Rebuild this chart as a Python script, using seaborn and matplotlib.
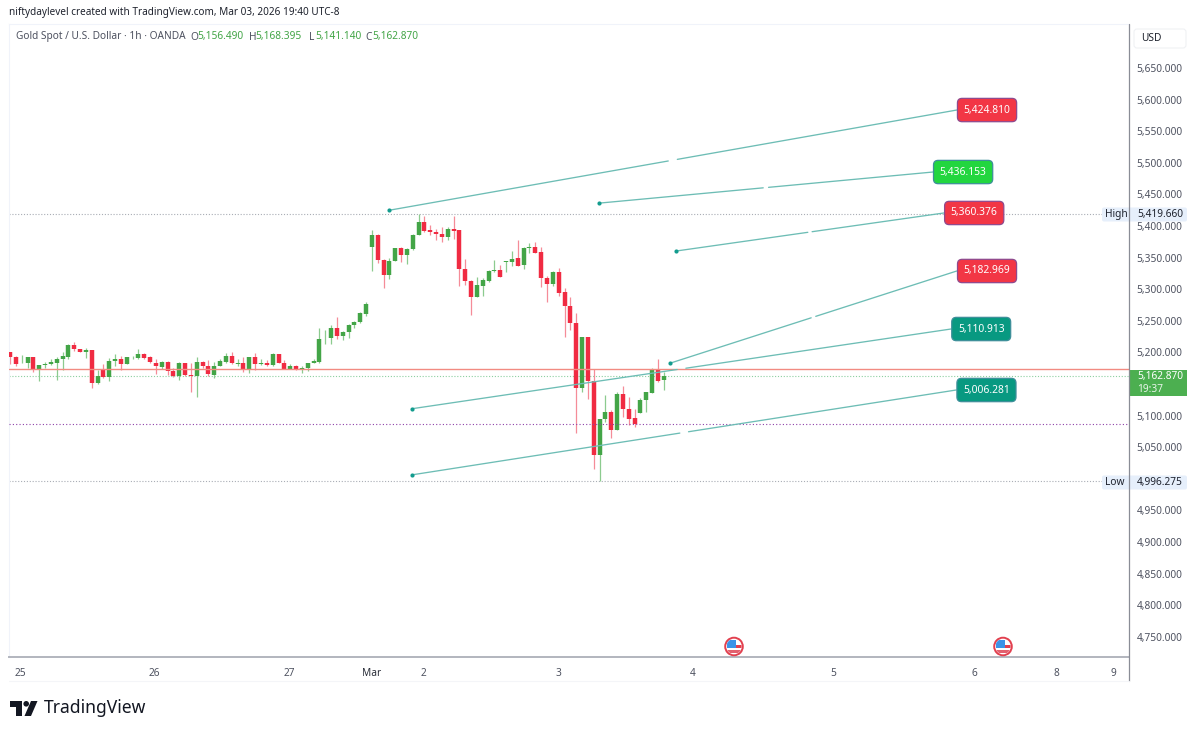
import matplotlib
matplotlib.use("Agg")
import matplotlib.pyplot as plt
from matplotlib.patches import Rectangle, FancyBboxPatch, Circle, Polygon
import pandas as pd
import seaborn as sns

opens = [5200,5193,5183,5183,5192,5173,5180,5182,5183,5189,
         5193,5211,5205,5201,5204,5151,5172,5161,5186,5190,
         5182,5192,5191,5197,5192,5184,5177,5185,5170,5163,
         5183,5165,5163,5185,5178,5165,5179,5185,5194,5181,
         5183,5173,5193,5182,5183,5180,5197,5184,5174,5178,
         5174,5175,5183,5185,5222,5222,5238,5226,5232,5244,
         5248,5261,5366,5386,5346,5322,5345,5365,5354,5363,
         5385,5407,5393,5391,5388,5383,5396,5393,5332,5313,
         5288,5305,5313,5329,5331,5343,5343,5349,5338,5365,
         5366,5359,5318,5309,5327,5295,5274,5247,5143,5224,
         5155,5038,5094,5106,5077,5134,5111,5096,5104,5124,5136,5174,5156.49]
closes = [5192,5182,5184,5192,5173,5180,5182,5185,5190,5194,
          5211,5205,5200,5204,5151,5162,5161,5186,5190,5182,
          5192,5193,5197,5191,5185,5178,5185,5170,5162,5183,
          5164,5163,5185,5178,5166,5179,5186,5194,5183,5183,
          5173,5193,5181,5183,5180,5197,5184,5174,5178,5174,
          5175,5183,5186,5221,5223,5238,5226,5233,5244,5248,
          5262,5277,5386,5346,5322,5345,5365,5354,5364,5386,
          5407,5392,5390,5387,5383,5396,5392,5332,5313,5288,
          5306,5314,5329,5331,5319,5345,5348,5337,5365,5366,
          5358,5317,5309,5327,5294,5274,5247,5143,5224,5155,
          5038,5095,5105,5077,5134,5111,5095,5087,5125,5137,5174,5154,5162.87]
highs = [5200,5194,5196,5192,5192,5180,5185,5190,5192,5200,
         5213,5216,5206,5207,5204,5172,5181,5191,5197,5194,
         5192,5195,5205,5199,5194,5189,5186,5186,5176,5185,
         5184,5183,5192,5186,5188,5185,5190,5199,5200,5189,
         5193,5193,5199,5189,5188,5199,5198,5188,5181,5180,
         5179,5184,5189,5239,5235,5244,5256,5234,5245,5250,
         5264,5280,5393,5387,5347,5350,5365,5366,5365,5388,
         5419.66,5416,5402,5396,5398,5398,5416,5394,5348,5315,
         5320,5317,5331,5346,5339,5345,5361,5378,5366,5373,
         5374,5366,5321,5329,5334,5302,5287,5263,5225,5224,
         5174,5095,5133,5109,5137,5147,5129,5110,5128,5138,5176,5190,5168.395]
lows = [5182,5179,5183,5176,5169,5154,5176,5180,5157,5172,
        5189,5203,5200,5191,5143,5150,5159,5154,5178,5172,
        5182,5189,5189,5190,5183,5166,5173,5165,5161,5157,
        5162,5138,5129,5176,5162,5160,5178,5184,5182,5179,
        5169,5167,5172,5180,5179,5179,5183,5173,5173,5172,
        5168,5171,5183,5184,5213,5214,5221,5220,5222,5239,
        5246,5257,5329,5341,5302,5316,5344,5343,5340,5362,
        5385,5390,5385,5378,5374,5378,5380,5305,5307,5259,
        5287,5289,5312,5328,5319,5327,5336,5337,5332,5358,
        5358,5304,5279,5305,5289,5225,5236,5072,5138,5127,
        5015,4996.275,5090,5064,5077,5098,5085,5082,5104,5105,5136,5153,5141.14]

price_ticks = [5650,5600,5550,5500,5450,5400,5350,5300,5250,5200,5100,5050,4950,4900,4850,4800,4750]
date_labels = ["25","26","27","Mar","2","3","4","5","6","8","9"]
date_bars = [1.7,24.8,47.8,62.0,70.9,93.9,117.0,141.0,165.2,179.2,189.1]

trend_names = ["5,424.810","5,436.153","5,360.376","5,182.969","5,110.913","5,006.281"]
trend_x0 = [64.9,100.9,114.1,113.1,68.9,68.9]
trend_p0 = [5424.81,5436.153,5360.376,5182.969,5110.913,5006.281]
trend_x1 = [162.2,158.1,160.0,162.2,161.2,162.1]
trend_p1 = [5583.5,5485.4,5420.6,5328.8,5237.0,5140.5]
trend_colors = ["#F23645","#22D63F","#F23645","#F23645","#089981","#089981"]

high_price = 5419.66
low_price = 4996.275
last_price = 5162.87
red_level = 5173.7
purple_level = 5087.3

W, H = 1200, 734
GREEN, RED = "#43A547", "#F02B42"
GREEN_W, RED_W = "#8CCB8F", "#F58C98"
TEAL = "#6DBDB5"
GREY = "#4E5260"
FS = 7.3

sns.set_theme(style="white")
plt.rcParams["font.family"] = ["Noto Sans", "DejaVu Sans"]

fig = plt.figure(figsize=(W / 100, H / 100), dpi=100, facecolor="white")
L, R, T, B = 9, 1129, 24, 657
ax = fig.add_axes([L / W, (H - B) / H, (R - L) / W, (B - T) / H])

wick_rows, body_rows = [], []
for i, (o, h, l, c) in enumerate(zip(opens, highs, lows, closes)):
    d = "up" if c >= o else "down"
    wick_rows += [(i, h, d), (i, l, d)]
    body_rows += [(i, o, d), (i, c, d)]
wicks = pd.DataFrame(wick_rows, columns=["bar", "price", "dir"])
bodies = pd.DataFrame(body_rows, columns=["bar", "price", "dir"])

sns.lineplot(data=wicks, x="bar", y="price", hue="dir", units="bar", estimator=None,
             palette={"up": GREEN_W, "down": RED_W}, linewidth=0.9, legend=False,
             solid_capstyle="butt", ax=ax, zorder=2)
sns.lineplot(data=bodies, x="bar", y="price", hue="dir", units="bar", estimator=None,
             palette={"up": GREEN, "down": RED}, linewidth=3.2, legend=False,
             solid_capstyle="butt", ax=ax, zorder=3)

ax.axhline(high_price, color="#A9ADB5", lw=0.8, ls=(0, (1, 1.6)), zorder=1)
ax.axhline(low_price, color="#A9ADB5", lw=0.8, ls=(0, (1, 1.6)), zorder=1)
ax.axhline(last_price, color="#8CCFA0", lw=0.8, ls=(0, (1, 1.6)), zorder=1)
ax.axhline(red_level, color="#F28B82", lw=1.0, zorder=4)
ax.axhline(purple_level, color="#8E3FA8", lw=0.8, ls=(0, (1, 2)), zorder=4)

# Trend lines, each with the small gap at its midpoint
seg_rows = []
for k in range(len(trend_names)):
    x0, p0, x1, p1 = trend_x0[k], trend_p0[k], trend_x1[k], trend_p1[k]
    for a, b, part in ((0, 0.492, 0), (0.508, 1, 1)):
        seg_rows.append((f"{k}-{part}", x0 + a * (x1 - x0), p0 + a * (p1 - p0)))
        seg_rows.append((f"{k}-{part}", x0 + b * (x1 - x0), p0 + b * (p1 - p0)))
segments = pd.DataFrame(seg_rows, columns=["seg", "bar", "price"])
sns.lineplot(data=segments, x="bar", y="price", units="seg", estimator=None,
             color=TEAL, linewidth=0.95, legend=False, ax=ax, zorder=5)
sns.scatterplot(x=trend_x0, y=trend_p0, color="#139C8E", s=9, linewidth=0, legend=False, ax=ax, zorder=6)

for k, name in enumerate(trend_names):
    ax.annotate(name, xy=(trend_x1[k], trend_p1[k]), xytext=(21.8, 0), textcoords="offset points",
                ha="center", va="center", color="white", fontsize=7.4, fontweight="semibold", zorder=8,
                bbox=dict(boxstyle="round,pad=0.6,rounding_size=0.45", fc=trend_colors[k],
                          ec="#8E4A8E" if trend_colors[k] == "#F23645" else "#3E8F9A", lw=0.9))

ax.set_xlim((L - 10) / 5.837, (R - 10) / 5.837)
ax.set_ylim(5650 - (B - 68) / 0.632, 5650 + (68 - T) / 0.632)
ax.set_xlabel("")
ax.set_ylabel("")
ax.yaxis.tick_right()
ax.set_yticks(price_ticks)
ax.set_yticklabels([f"{v:,.3f}" for v in price_ticks], fontsize=FS, color=GREY)
ax.set_xticks(date_bars)
ax.set_xticklabels(date_labels, fontsize=FS, color=GREY)
ax.get_xticklabels()[3].set_color("#2A2E39")
ax.tick_params(axis="y", length=0, pad=5.5)
ax.tick_params(axis="x", length=0, pad=8.0)
ax.grid(False)
ax.spines["left"].set_color("#F0F3FA")
ax.spines["top"].set_color("#F0F3FA")
ax.spines["left"].set_linewidth(0.8)
ax.spines["top"].set_linewidth(0.8)
ax.spines["bottom"].set_color("#B2B5BE")
ax.spines["bottom"].set_linewidth(1.4)
ax.spines["right"].set_visible(False)

# Page furniture, placed in pixel coordinates
ov = fig.add_axes([0, 0, 1, 1], facecolor="none", zorder=10)
ov.set_xlim(0, W)
ov.set_ylim(H, 0)
ov.axis("off")

ov.plot([R, R], [T, 681], color="#8A8D96", lw=0.9)
ov.plot([L, 1129], [681, 681], color="#F4F5F8", lw=0.8)

ov.text(9, 13, "niftydaylevel created with TradingView.com, Mar 03, 2026 19:40 UTC-8",
        fontsize=7.2, color="#1E222D", va="center", fontweight="medium")
ov.text(16, 37, "Gold Spot / U.S. Dollar · 1h · OANDA", fontsize=FS, color=GREY, va="center")
for lx, ltr, vx, val in [(190, "O", 197, "5,156.490"), (249, "H", 255, "5,168.395"),
                         (309, "L", 315, "5,141.140"), (365, "C", 372, "5,162.870")]:
    ov.text(lx, 37, ltr, fontsize=FS, color=GREY, va="center")
    ov.text(vx, 37, val, fontsize=FS, color=GREEN, va="center")

ov.add_patch(FancyBboxPatch((1134, 29), 52, 19, boxstyle="round,pad=0,rounding_size=3",
                            fc="white", ec="#F0F1F4", lw=0.8))
ov.text(1141, 38.5, "USD", fontsize=FS, color="#1E222D", va="center", fontweight="medium")

ov.add_patch(Rectangle((1130, 370), 57, 26, fc="#4CAF50", ec="none"))
ov.text(1137, 377, "5,162.870", fontsize=FS, color="white", va="center")
ov.text(1137, 389, "19:37", fontsize=FS, color="#E8F5E9", va="center")

for y, tag, val in [(214.5, "High", "5,419.660"), (482.5, "Low", "4,996.275")]:
    ov.add_patch(FancyBboxPatch((1102, y - 7), 85, 14, boxstyle="round,pad=0,rounding_size=2",
                                fc="#E6EFFB", ec="none"))
    ov.text(1105, y, tag, fontsize=FS, color="#1E222D", va="center")
    ov.text(1137, y, val, fontsize=FS, color="#1E222D", va="center")

for cx in (734, 1003):
    cy = 646.5
    ring = Circle((cx, cy), 8.8, fc="white", ec="#E2404F", lw=1.4)
    ov.add_patch(ring)
    inner = Circle((cx, cy), 7.6, transform=ov.transData)
    for x0, y0, w, h, col in [(cx - 7, cy - 7, 9, 8.7, "#3B93E8"),
                              (cx + 2, cy - 1.5, 6, 3, "#E2404F"),
                              (cx - 8, cy + 3.3, 16, 2.8, "#E2606E")]:
        r = Rectangle((x0, y0), w, h, fc=col, ec="none")
        ov.add_patch(r)
        r.set_clip_path(inner)

ov.add_patch(Polygon([(10, 701), (22, 701), (22, 716), (15.5, 716), (15.5, 706.5), (10, 706.5)],
                     fc="#131722", ec="none"))
ov.add_patch(Circle((26.2, 703.8), 2.8, fc="#131722", ec="none"))
ov.add_patch(Polygon([(31, 701), (37.5, 701), (31, 716), (24.5, 716)], fc="#131722", ec="none"))
ov.text(43.5, 708, "TradingView", fontsize=12.6, color="#131722", va="center", fontweight="bold")

fig.savefig("out.png", dpi=100, facecolor="white")
